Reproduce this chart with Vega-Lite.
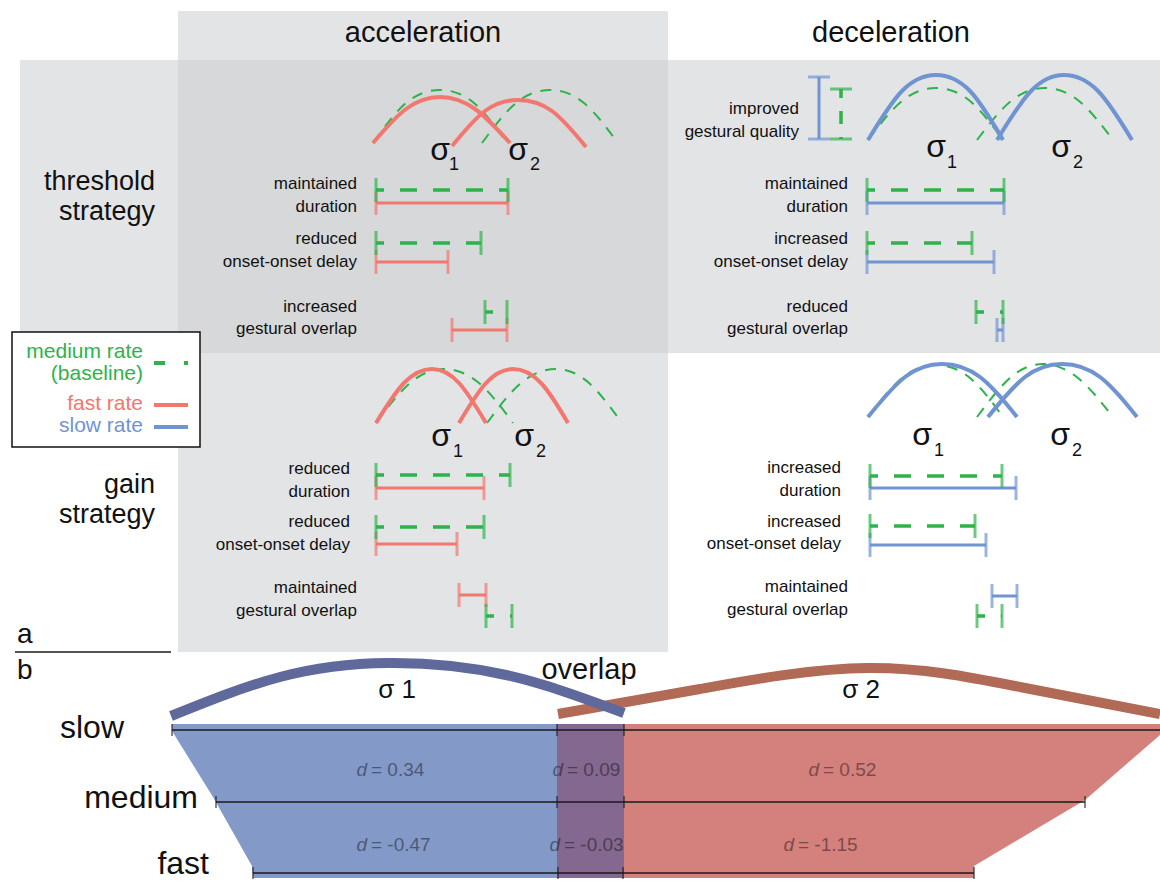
{
"$schema": "https://vega.github.io/schema/vega-lite/v6.json",
"width": 1160, "height": 883, "padding": 0,
"autosize": {"type": "none"},
"background": "white",
"config": {"view": {"stroke": null}, "font": "Liberation Sans"},
"datasets": {
"rects": [
{"x":178,"x2":668,"y":11,"y2":652,"c":"col"},
{"x":20,"x2":1160,"y":60,"y2":353,"c":"col"},
{"x":178,"x2":668,"y":60,"y2":353,"c":"both"},
{"x":557,"x2":624,"y":724,"y2":878,"c":"purple"}
],
"areas": [
{"y":724,"x":172,"x2":557,"c":"bluefill"},{"y":731,"x":172,"x2":557,"c":"bluefill"},{"y":797,"x":213,"x2":557,"c":"bluefill"},{"y":866,"x":252,"x2":557,"c":"bluefill"},{"y":878,"x":253,"x2":557,"c":"bluefill"},
{"y":724,"x":624,"x2":1160,"c":"redfill"},{"y":735,"x":624,"x2":1160,"c":"redfill"},{"y":800,"x":624,"x2":1085,"c":"redfill"},{"y":866,"x":624,"x2":974,"c":"redfill"},{"y":878,"x":624,"x2":974,"c":"redfill"}
],
"arcs": [
{"id":"ta_r1","c":"red","k":0,"x":373,"y":143},{"id":"ta_r1","c":"red","k":1,"x":406,"y":109},{"id":"ta_r1","c":"red","k":2,"x":440,"y":97},{"id":"ta_r1","c":"red","k":3,"x":475,"y":109},{"id":"ta_r1","c":"red","k":4,"x":510,"y":143},
{"id":"ta_r2","c":"red","k":0,"x":452,"y":146},{"id":"ta_r2","c":"red","k":1,"x":485,"y":111},{"id":"ta_r2","c":"red","k":2,"x":518,"y":100},{"id":"ta_r2","c":"red","k":3,"x":552,"y":111},{"id":"ta_r2","c":"red","k":4,"x":586,"y":147},
{"id":"ta_g1","c":"green","k":0,"x":373,"y":143},{"id":"ta_g1","c":"green","k":1,"x":406,"y":103},{"id":"ta_g1","c":"green","k":2,"x":440,"y":90},{"id":"ta_g1","c":"green","k":3,"x":474,"y":103},{"id":"ta_g1","c":"green","k":4,"x":507,"y":143},
{"id":"ta_g2","c":"green","k":0,"x":482,"y":143},{"id":"ta_g2","c":"green","k":1,"x":516,"y":103},{"id":"ta_g2","c":"green","k":2,"x":550,"y":90},{"id":"ta_g2","c":"green","k":3,"x":584,"y":103},{"id":"ta_g2","c":"green","k":4,"x":618,"y":143},
{"id":"td_b1","c":"blue","k":0,"x":868,"y":140},{"id":"td_b1","c":"blue","k":1,"x":902,"y":91},{"id":"td_b1","c":"blue","k":2,"x":936,"y":75},{"id":"td_b1","c":"blue","k":3,"x":970,"y":91},{"id":"td_b1","c":"blue","k":4,"x":1003,"y":140},
{"id":"td_b2","c":"blue","k":0,"x":997,"y":140},{"id":"td_b2","c":"blue","k":1,"x":1031,"y":91},{"id":"td_b2","c":"blue","k":2,"x":1064,"y":75},{"id":"td_b2","c":"blue","k":3,"x":1098,"y":91},{"id":"td_b2","c":"blue","k":4,"x":1132,"y":140},
{"id":"td_g1","c":"green","k":0,"x":868,"y":140},{"id":"td_g1","c":"green","k":1,"x":902,"y":101},{"id":"td_g1","c":"green","k":2,"x":936,"y":88},{"id":"td_g1","c":"green","k":3,"x":970,"y":101},{"id":"td_g1","c":"green","k":4,"x":1003,"y":140},
{"id":"td_g2","c":"green","k":0,"x":977,"y":140},{"id":"td_g2","c":"green","k":1,"x":1011,"y":101},{"id":"td_g2","c":"green","k":2,"x":1045,"y":88},{"id":"td_g2","c":"green","k":3,"x":1079,"y":101},{"id":"td_g2","c":"green","k":4,"x":1113,"y":140},
{"id":"ga_r1","c":"red","k":0,"x":376,"y":423},{"id":"ga_r1","c":"red","k":1,"x":404,"y":383},{"id":"ga_r1","c":"red","k":2,"x":432,"y":369},{"id":"ga_r1","c":"red","k":3,"x":459,"y":383},{"id":"ga_r1","c":"red","k":4,"x":486,"y":423},
{"id":"ga_r2","c":"red","k":0,"x":459,"y":423},{"id":"ga_r2","c":"red","k":1,"x":486,"y":383},{"id":"ga_r2","c":"red","k":2,"x":513,"y":369},{"id":"ga_r2","c":"red","k":3,"x":541,"y":383},{"id":"ga_r2","c":"red","k":4,"x":568,"y":423},
{"id":"ga_g1","c":"green","k":0,"x":376,"y":423},{"id":"ga_g1","c":"green","k":1,"x":410,"y":383},{"id":"ga_g1","c":"green","k":2,"x":444,"y":369},{"id":"ga_g1","c":"green","k":3,"x":479,"y":383},{"id":"ga_g1","c":"green","k":4,"x":513,"y":423},
{"id":"ga_g2","c":"green","k":0,"x":487,"y":423},{"id":"ga_g2","c":"green","k":1,"x":521,"y":383},{"id":"ga_g2","c":"green","k":2,"x":556,"y":369},{"id":"ga_g2","c":"green","k":3,"x":589,"y":383},{"id":"ga_g2","c":"green","k":4,"x":622,"y":423},
{"id":"gd_b1","c":"blue","k":0,"x":868,"y":417},{"id":"gd_b1","c":"blue","k":1,"x":905,"y":377},{"id":"gd_b1","c":"blue","k":2,"x":942,"y":364},{"id":"gd_b1","c":"blue","k":3,"x":980,"y":377},{"id":"gd_b1","c":"blue","k":4,"x":1017,"y":417},
{"id":"gd_b2","c":"blue","k":0,"x":988,"y":417},{"id":"gd_b2","c":"blue","k":1,"x":1025,"y":377},{"id":"gd_b2","c":"blue","k":2,"x":1062,"y":364},{"id":"gd_b2","c":"blue","k":3,"x":1100,"y":377},{"id":"gd_b2","c":"blue","k":4,"x":1137,"y":417},
{"id":"gd_g1","c":"green","k":0,"x":868,"y":417},{"id":"gd_g1","c":"green","k":1,"x":902,"y":378},{"id":"gd_g1","c":"green","k":2,"x":936,"y":365},{"id":"gd_g1","c":"green","k":3,"x":970,"y":378},{"id":"gd_g1","c":"green","k":4,"x":1003,"y":417},
{"id":"gd_g2","c":"green","k":0,"x":977,"y":417},{"id":"gd_g2","c":"green","k":1,"x":1010,"y":378},{"id":"gd_g2","c":"green","k":2,"x":1043,"y":364},{"id":"gd_g2","c":"green","k":3,"x":1078,"y":378},{"id":"gd_g2","c":"green","k":4,"x":1113,"y":417},
{"id":"b_brown","c":"brownarc","k":0,"x":558,"y":714},{"id":"b_brown","c":"brownarc","k":1,"x":700,"y":689},{"id":"b_brown","c":"brownarc","k":2,"x":868,"y":668},{"id":"b_brown","c":"brownarc","k":3,"x":1020,"y":687},{"id":"b_brown","c":"brownarc","k":4,"x":1160,"y":714},
{"id":"b_blue","c":"bluearc","k":0,"x":171,"y":716},{"id":"b_blue","c":"bluearc","k":1,"x":280,"y":677},{"id":"b_blue","c":"bluearc","k":2,"x":388,"y":663},{"id":"b_blue","c":"bluearc","k":3,"x":506,"y":675},{"id":"b_blue","c":"bluearc","k":4,"x":624,"y":713}
],
"bars": [
{"c":"green","x":376,"x2":508,"y":190},{"c":"red","x":376,"x2":508,"y":203},
{"c":"green","x":376,"x2":481,"y":243},{"c":"red","x":376,"x2":448,"y":262},
{"c":"green","x":485,"x2":507,"y":312},{"c":"red","x":452,"x2":507,"y":330},
{"c":"green","x":867,"x2":1004,"y":190},{"c":"blue","x":867,"x2":1004,"y":203},
{"c":"green","x":867,"x2":972,"y":243},{"c":"blue","x":867,"x2":994,"y":262},
{"c":"green","x":976,"x2":1003,"y":312},{"c":"blue","x":997,"x2":1003,"y":330},
{"c":"green","x":376,"x2":510,"y":475},{"c":"red","x":376,"x2":484,"y":488},
{"c":"green","x":376,"x2":484,"y":527},{"c":"red","x":376,"x2":457,"y":544},
{"c":"red","x":459,"x2":486,"y":595},{"c":"green","x":486,"x2":512,"y":616},
{"c":"green","x":870,"x2":1002,"y":476},{"c":"blue","x":870,"x2":1016,"y":488},
{"c":"green","x":870,"x2":975,"y":526},{"c":"blue","x":870,"x2":986,"y":545},
{"c":"blue","x":992,"x2":1017,"y":596},{"c":"green","x":977,"x2":1002,"y":616}
],
"vbars": [
{"c":"blue","x":819,"y":77,"y2":139},
{"c":"green","x":841,"y":89,"y2":139}
],
"blines": [
{"x":172,"x2":1160,"y":730},{"x":216,"x2":1085,"y":802},{"x":253,"x2":974,"y":873},{"x":15,"x2":171,"y":652}
],
"bticks": [
{"x":172,"y":730},{"x":557,"y":730},{"x":624,"y":730},
{"x":216,"y":802},{"x":557,"y":802},{"x":624,"y":802},{"x":1085,"y":802},
{"x":253,"y":873},{"x":558,"y":873},{"x":623,"y":873},{"x":974,"y":873}
],
"legbox": [{"x":12,"x2":200,"y":332,"y2":447}],
"leglines": [
{"c":"green","x":154,"x2":188,"y":363},{"c":"red","x":154,"x2":188,"y":405},{"c":"blue","x":154,"x2":188,"y":427}
],
"texts": [
{"g":"hdr","t":"acceleration","x":423,"y":33},{"g":"hdr","t":"deceleration","x":891,"y":33},
{"g":"strat","t":"threshold","x":155,"y":182},{"g":"strat","t":"strategy","x":155,"y":212},
{"g":"strat","t":"gain","x":155,"y":485},{"g":"strat","t":"strategy","x":155,"y":515},
{"g":"lab","t":"maintained","x":357,"y":184},{"g":"lab","t":"duration","x":357,"y":207},
{"g":"lab","t":"reduced","x":357,"y":239},{"g":"lab","t":"onset-onset delay","x":357,"y":262},
{"g":"lab","t":"increased","x":357,"y":307},{"g":"lab","t":"gestural overlap","x":357,"y":329},
{"g":"lab","t":"improved","x":799,"y":109},{"g":"lab","t":"gestural quality","x":799,"y":132},
{"g":"lab","t":"maintained","x":848,"y":184},{"g":"lab","t":"duration","x":848,"y":207},
{"g":"lab","t":"increased","x":848,"y":239},{"g":"lab","t":"onset-onset delay","x":848,"y":262},
{"g":"lab","t":"reduced","x":848,"y":307},{"g":"lab","t":"gestural overlap","x":848,"y":329},
{"g":"lab","t":"reduced","x":350,"y":469},{"g":"lab","t":"duration","x":350,"y":492},
{"g":"lab","t":"reduced","x":350,"y":522},{"g":"lab","t":"onset-onset delay","x":350,"y":545},
{"g":"lab","t":"maintained","x":357,"y":588},{"g":"lab","t":"gestural overlap","x":357,"y":611},
{"g":"lab","t":"increased","x":841,"y":468},{"g":"lab","t":"duration","x":841,"y":491},
{"g":"lab","t":"increased","x":841,"y":522},{"g":"lab","t":"onset-onset delay","x":841,"y":544},
{"g":"lab","t":"maintained","x":848,"y":587},{"g":"lab","t":"gestural overlap","x":848,"y":610},
{"g":"sig","t":"σ","x":440,"y":160},{"g":"sig","t":"σ","x":518,"y":160},
{"g":"sig","t":"σ","x":936,"y":157},{"g":"sig","t":"σ","x":1061,"y":157},
{"g":"sig","t":"σ","x":441,"y":446},{"g":"sig","t":"σ","x":524,"y":446},
{"g":"sig","t":"σ","x":922,"y":445},{"g":"sig","t":"σ","x":1060,"y":445},
{"g":"sub","t":"1","x":454,"y":170},{"g":"sub","t":"2","x":535,"y":170},
{"g":"sub","t":"1","x":952,"y":168},{"g":"sub","t":"2","x":1078,"y":168},
{"g":"sub","t":"1","x":458,"y":457},{"g":"sub","t":"2","x":541,"y":457},
{"g":"sub","t":"1","x":939,"y":456},{"g":"sub","t":"2","x":1077,"y":456},
{"g":"pl","t":"a","x":17,"y":635},{"g":"pl","t":"b","x":17,"y":671},
{"g":"bl","t":"slow","x":124,"y":728},{"g":"bl","t":"medium","x":198,"y":798},{"g":"bl","t":"fast","x":209,"y":864},
{"g":"bsig","t":"σ 1","x":397,"y":698},{"g":"bsig","t":"σ 2","x":861,"y":698},
{"g":"ovl","t":"overlap","x":589,"y":679}
],
"legtexts": [
{"t":"medium rate","c":"green","x":143,"y":352},{"t":"(baseline)","c":"green","x":143,"y":374},
{"t":"fast rate","c":"red","x":143,"y":404},{"t":"slow rate","c":"blue","x":143,"y":426}
],
"dvals": [
{"t":"= 0.34","x":369,"y":770},{"t":"= 0.09","x":565,"y":770},{"t":"= 0.52","x":821,"y":770},
{"t":"= -0.47","x":369,"y":845},{"t":"= -0.03","x":562,"y":845},{"t":"= -1.15","x":796,"y":845}
]
},
"encoding": {
"x": {"field":"x","type":"quantitative","scale":{"domain":[0,1160],"nice":false,"zero":false},"axis":null},
"y": {"field":"y","type":"quantitative","scale":{"domain":[0,883],"nice":false,"zero":false,"reverse":true},"axis":null}
},
"layer": [
{"data":{"name":"rects"},"mark":{"type":"rect"},
 "encoding":{"x2":{"field":"x2"},"y2":{"field":"y2"},
 "color":{"field":"c","type":"nominal","legend":null,"scale":{"domain":["green","red","blue","col","both","purple","bluefill","redfill","bluearc","brownarc"],"range":["#2db34a","#f2776f","#7094d2","#e3e4e6","#d7d8da","#84688f","#8399c8","#d4807d","#5f699b","#b06a55"]}}}},
{"data":{"name":"areas"},"mark":{"type":"area","orient":"horizontal"},
 "encoding":{"x":{"field":"x","type":"quantitative","stack":null,"scale":{"domain":[0,1160],"nice":false,"zero":false},"axis":null},
 "x2":{"field":"x2"},"detail":{"field":"c"},
 "color":{"field":"c","type":"nominal","legend":null,"scale":{"domain":["green","red","blue","col","both","purple","bluefill","redfill","bluearc","brownarc"],"range":["#2db34a","#f2776f","#7094d2","#e3e4e6","#d7d8da","#84688f","#8399c8","#d4807d","#5f699b","#b06a55"]}}}},
{"data":{"name":"blines"},"mark":{"type":"rule","color":"#1a1a1a","strokeWidth":1.5},"encoding":{"x2":{"field":"x2"}}},
{"data":{"name":"bticks"},"mark":{"type":"tick","orient":"vertical","color":"#1a1a1a","size":12,"thickness":1.5}},
{"data":{"name":"arcs"},"transform":[{"filter":"datum.c === 'brownarc' || datum.c === 'bluearc'"}],
 "mark":{"type":"line","strokeWidth":10,"interpolate":"natural","strokeCap":"butt"},
 "encoding":{"order":{"field":"k"},"detail":{"field":"id"},
 "color":{"field":"c","type":"nominal","legend":null,"scale":{"domain":["green","red","blue","col","both","purple","bluefill","redfill","bluearc","brownarc"],"range":["#2db34a","#f2776f","#7094d2","#e3e4e6","#d7d8da","#84688f","#8399c8","#d4807d","#5f699b","#b06a55"]}}}},
{"data":{"name":"arcs"},"transform":[{"filter":"datum.c === 'green'"}],
 "mark":{"type":"line","strokeWidth":2,"interpolate":"natural","strokeDash":[11,9],"strokeCap":"butt"},
 "encoding":{"order":{"field":"k"},"detail":{"field":"id"},
 "color":{"field":"c","type":"nominal","legend":null,"scale":{"domain":["green","red","blue","col","both","purple","bluefill","redfill","bluearc","brownarc"],"range":["#2db34a","#f2776f","#7094d2","#e3e4e6","#d7d8da","#84688f","#8399c8","#d4807d","#5f699b","#b06a55"]}}}},
{"data":{"name":"arcs"},"transform":[{"filter":"datum.c === 'red' || datum.c === 'blue'"}],
 "mark":{"type":"line","strokeWidth":4,"interpolate":"natural","strokeCap":"butt"},
 "encoding":{"order":{"field":"k"},"detail":{"field":"id"},
 "color":{"field":"c","type":"nominal","legend":null,"scale":{"domain":["green","red","blue","col","both","purple","bluefill","redfill","bluearc","brownarc"],"range":["#2db34a","#f2776f","#7094d2","#e3e4e6","#d7d8da","#84688f","#8399c8","#d4807d","#5f699b","#b06a55"]}}}},
{"data":{"name":"bars"},"transform":[{"filter":"datum.c !== 'green'"}],
 "mark":{"type":"rule","strokeWidth":3},
 "encoding":{"x2":{"field":"x2"},
 "color":{"field":"c","type":"nominal","legend":null,"scale":{"domain":["green","red","blue","col","both","purple","bluefill","redfill","bluearc","brownarc"],"range":["#2db34a","#f2776f","#7094d2","#e3e4e6","#d7d8da","#84688f","#8399c8","#d4807d","#5f699b","#b06a55"]}}}},
{"data":{"name":"bars"},"transform":[{"filter":"datum.c !== 'green'"}],
 "mark":{"type":"tick","orient":"vertical","size":24,"thickness":3},
 "encoding":{
 "color":{"field":"c","type":"nominal","legend":null,"scale":{"domain":["green","red","blue","col","both","purple","bluefill","redfill","bluearc","brownarc"],"range":["#2db34a","#f2776f","#7094d2","#e3e4e6","#d7d8da","#84688f","#8399c8","#d4807d","#5f699b","#b06a55"]}}}},
{"data":{"name":"bars"},"transform":[{"filter":"datum.c !== 'green'"}],
 "mark":{"type":"tick","orient":"vertical","size":24,"thickness":3},
 "encoding":{"x":{"field":"x2","type":"quantitative","scale":{"domain":[0,1160],"nice":false,"zero":false},"axis":null},
 "color":{"field":"c","type":"nominal","legend":null,"scale":{"domain":["green","red","blue","col","both","purple","bluefill","redfill","bluearc","brownarc"],"range":["#2db34a","#f2776f","#7094d2","#e3e4e6","#d7d8da","#84688f","#8399c8","#d4807d","#5f699b","#b06a55"]}}}},
{"data":{"name":"bars"},"transform":[{"filter":"datum.c === 'green'"}],
 "mark":{"type":"rule","strokeWidth":3.5,"strokeDash":[17,16],"strokeDashOffset":9},
 "encoding":{"x2":{"field":"x2"},
 "color":{"field":"c","type":"nominal","legend":null,"scale":{"domain":["green","red","blue","col","both","purple","bluefill","redfill","bluearc","brownarc"],"range":["#2db34a","#f2776f","#7094d2","#e3e4e6","#d7d8da","#84688f","#8399c8","#d4807d","#5f699b","#b06a55"]}}}},
{"data":{"name":"bars"},"transform":[{"filter":"datum.c === 'green'"}],
 "mark":{"type":"tick","orient":"vertical","size":24,"thickness":3},
 "encoding":{
 "color":{"field":"c","type":"nominal","legend":null,"scale":{"domain":["green","red","blue","col","both","purple","bluefill","redfill","bluearc","brownarc"],"range":["#2db34a","#f2776f","#7094d2","#e3e4e6","#d7d8da","#84688f","#8399c8","#d4807d","#5f699b","#b06a55"]}}}},
{"data":{"name":"bars"},"transform":[{"filter":"datum.c === 'green'"}],
 "mark":{"type":"tick","orient":"vertical","size":24,"thickness":3},
 "encoding":{"x":{"field":"x2","type":"quantitative","scale":{"domain":[0,1160],"nice":false,"zero":false},"axis":null},
 "color":{"field":"c","type":"nominal","legend":null,"scale":{"domain":["green","red","blue","col","both","purple","bluefill","redfill","bluearc","brownarc"],"range":["#2db34a","#f2776f","#7094d2","#e3e4e6","#d7d8da","#84688f","#8399c8","#d4807d","#5f699b","#b06a55"]}}}},
{"data":{"name":"vbars"},"transform":[{"filter":"datum.c === 'blue'"}],
 "mark":{"type":"rule","strokeWidth":3},
 "encoding":{"y2":{"field":"y2"},
 "color":{"field":"c","type":"nominal","legend":null,"scale":{"domain":["green","red","blue","col","both","purple","bluefill","redfill","bluearc","brownarc"],"range":["#2db34a","#f2776f","#7094d2","#e3e4e6","#d7d8da","#84688f","#8399c8","#d4807d","#5f699b","#b06a55"]}}}},
{"data":{"name":"vbars"},"transform":[{"filter":"datum.c === 'green'"}],
 "mark":{"type":"rule","strokeWidth":3.5,"strokeDash":[13,13],"strokeDashOffset":4},
 "encoding":{"y2":{"field":"y2"},
 "color":{"field":"c","type":"nominal","legend":null,"scale":{"domain":["green","red","blue","col","both","purple","bluefill","redfill","bluearc","brownarc"],"range":["#2db34a","#f2776f","#7094d2","#e3e4e6","#d7d8da","#84688f","#8399c8","#d4807d","#5f699b","#b06a55"]}}}},
{"data":{"name":"vbars"},
 "mark":{"type":"tick","orient":"horizontal","size":22,"thickness":3},
 "encoding":{
 "color":{"field":"c","type":"nominal","legend":null,"scale":{"domain":["green","red","blue","col","both","purple","bluefill","redfill","bluearc","brownarc"],"range":["#2db34a","#f2776f","#7094d2","#e3e4e6","#d7d8da","#84688f","#8399c8","#d4807d","#5f699b","#b06a55"]}}}},
{"data":{"name":"vbars"},
 "mark":{"type":"tick","orient":"horizontal","size":22,"thickness":3},
 "encoding":{"y":{"field":"y2","type":"quantitative","scale":{"domain":[0,883],"nice":false,"zero":false,"reverse":true},"axis":null},
 "color":{"field":"c","type":"nominal","legend":null,"scale":{"domain":["green","red","blue","col","both","purple","bluefill","redfill","bluearc","brownarc"],"range":["#2db34a","#f2776f","#7094d2","#e3e4e6","#d7d8da","#84688f","#8399c8","#d4807d","#5f699b","#b06a55"]}}}},
{"data":{"name":"legbox"},"mark":{"type":"rect","fill":"white","stroke":"#111","strokeWidth":1.5},
 "encoding":{"x2":{"field":"x2"},"y2":{"field":"y2"}}},
{"data":{"name":"leglines"},"transform":[{"filter":"datum.c !== 'green'"}],
 "mark":{"type":"rule","strokeWidth":4},
 "encoding":{"x2":{"field":"x2"},
 "color":{"field":"c","type":"nominal","legend":null,"scale":{"domain":["green","red","blue","col","both","purple","bluefill","redfill","bluearc","brownarc"],"range":["#2db34a","#f2776f","#7094d2","#e3e4e6","#d7d8da","#84688f","#8399c8","#d4807d","#5f699b","#b06a55"]}}}},
{"data":{"name":"leglines"},"transform":[{"filter":"datum.c === 'green'"}],
 "mark":{"type":"rule","strokeWidth":4,"strokeDash":[11,19]},
 "encoding":{"x2":{"field":"x2"},
 "color":{"field":"c","type":"nominal","legend":null,"scale":{"domain":["green","red","blue","col","both","purple","bluefill","redfill","bluearc","brownarc"],"range":["#2db34a","#f2776f","#7094d2","#e3e4e6","#d7d8da","#84688f","#8399c8","#d4807d","#5f699b","#b06a55"]}}}},
{"data":{"name":"legtexts"},"mark":{"type":"text","align":"right","baseline":"middle","fontSize":21},
 "encoding":{"text":{"field":"t"},
 "color":{"field":"c","type":"nominal","legend":null,"scale":{"domain":["green","red","blue","col","both","purple","bluefill","redfill","bluearc","brownarc"],"range":["#2db34a","#f2776f","#7094d2","#e3e4e6","#d7d8da","#84688f","#8399c8","#d4807d","#5f699b","#b06a55"]}}}},
{"data":{"name":"texts"},"transform":[{"filter":"datum.g === 'hdr'"}],
 "mark":{"type":"text","align":"center","baseline":"middle","fontSize":29,"color":"#111"},"encoding":{"text":{"field":"t"}}},
{"data":{"name":"texts"},"transform":[{"filter":"datum.g === 'strat'"}],
 "mark":{"type":"text","align":"right","baseline":"middle","fontSize":27,"color":"#111"},"encoding":{"text":{"field":"t"}}},
{"data":{"name":"texts"},"transform":[{"filter":"datum.g === 'lab'"}],
 "mark":{"type":"text","align":"right","baseline":"middle","fontSize":17,"color":"#111"},"encoding":{"text":{"field":"t"}}},
{"data":{"name":"texts"},"transform":[{"filter":"datum.g === 'sig'"}],
 "mark":{"type":"text","align":"center","baseline":"alphabetic","fontSize":32,"color":"#111"},"encoding":{"text":{"field":"t"}}},
{"data":{"name":"texts"},"transform":[{"filter":"datum.g === 'sub'"}],
 "mark":{"type":"text","align":"center","baseline":"alphabetic","fontSize":18,"color":"#111"},"encoding":{"text":{"field":"t"}}},
{"data":{"name":"texts"},"transform":[{"filter":"datum.g === 'pl'"}],
 "mark":{"type":"text","align":"left","baseline":"middle","fontSize":28,"color":"#111"},"encoding":{"text":{"field":"t"}}},
{"data":{"name":"texts"},"transform":[{"filter":"datum.g === 'bl'"}],
 "mark":{"type":"text","align":"right","baseline":"middle","fontSize":32,"color":"#111"},"encoding":{"text":{"field":"t"}}},
{"data":{"name":"texts"},"transform":[{"filter":"datum.g === 'bsig'"}],
 "mark":{"type":"text","align":"center","baseline":"alphabetic","fontSize":26,"color":"#111"},"encoding":{"text":{"field":"t"}}},
{"data":{"name":"texts"},"transform":[{"filter":"datum.g === 'ovl'"}],
 "mark":{"type":"text","align":"center","baseline":"alphabetic","fontSize":29,"color":"#111"},"encoding":{"text":{"field":"t"}}},
{"data":{"name":"dvals"},"mark":{"type":"text","text":"d","fontStyle":"italic","align":"right","baseline":"middle","fontSize":19,"dx":-2,"color":"#000","opacity":0.42}},
{"data":{"name":"dvals"},"mark":{"type":"text","align":"left","baseline":"middle","fontSize":19,"dx":2,"color":"#000","opacity":0.42},"encoding":{"text":{"field":"t"}}}
]
}
